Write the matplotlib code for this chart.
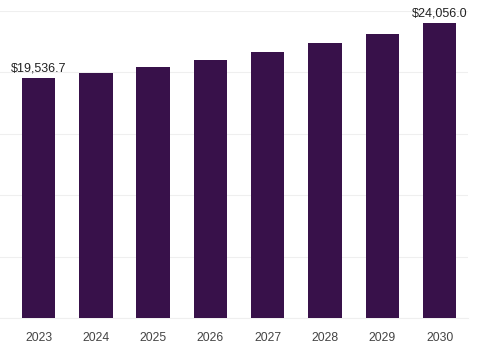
import matplotlib
matplotlib.use("Agg")
import matplotlib.pyplot as plt

years = ["2023", "2024", "2025", "2026", "2027", "2028", "2029", "2030"]
values = [19536.7, 19950, 20470, 21040, 21630, 22360, 23120, 24056.0]
labels = {0: "$19,536.7", 7: "$24,056.0"}

plt.rcParams['font.family'] = ['Liberation Sans', 'DejaVu Sans']

fig = plt.figure(figsize=(4.92, 3.6), dpi=100)
ax = fig.add_axes([0, 42/360, 468/492, 307/360])

x = list(range(len(years)))
ax.bar(x, values, width=0.585, color="#38114a", zorder=3)
for i, t in labels.items():
    ax.text(i, values[i] + 280, t, ha="center", va="bottom", fontsize=9, color="#222222")

ax.set_xlim(-0.672, 7.496)
ax.set_ylim(0, 25000)
ax.set_yticks(range(0, 25001, 5000))
ax.yaxis.grid(True, color="#efefef", linewidth=0.8, zorder=0)
ax.set_xticks(x)
ax.set_xticklabels(years, fontsize=8.7, color="#444444")
ax.tick_params(axis="x", length=0, pad=10)
ax.tick_params(axis="y", length=0, labelleft=False)
for s in ["top", "right", "left"]:
    ax.spines[s].set_visible(False)
ax.spines["bottom"].set_color("#efefef")
ax.spines["bottom"].set_linewidth(0.8)

fig.savefig("out.png", dpi=100)
